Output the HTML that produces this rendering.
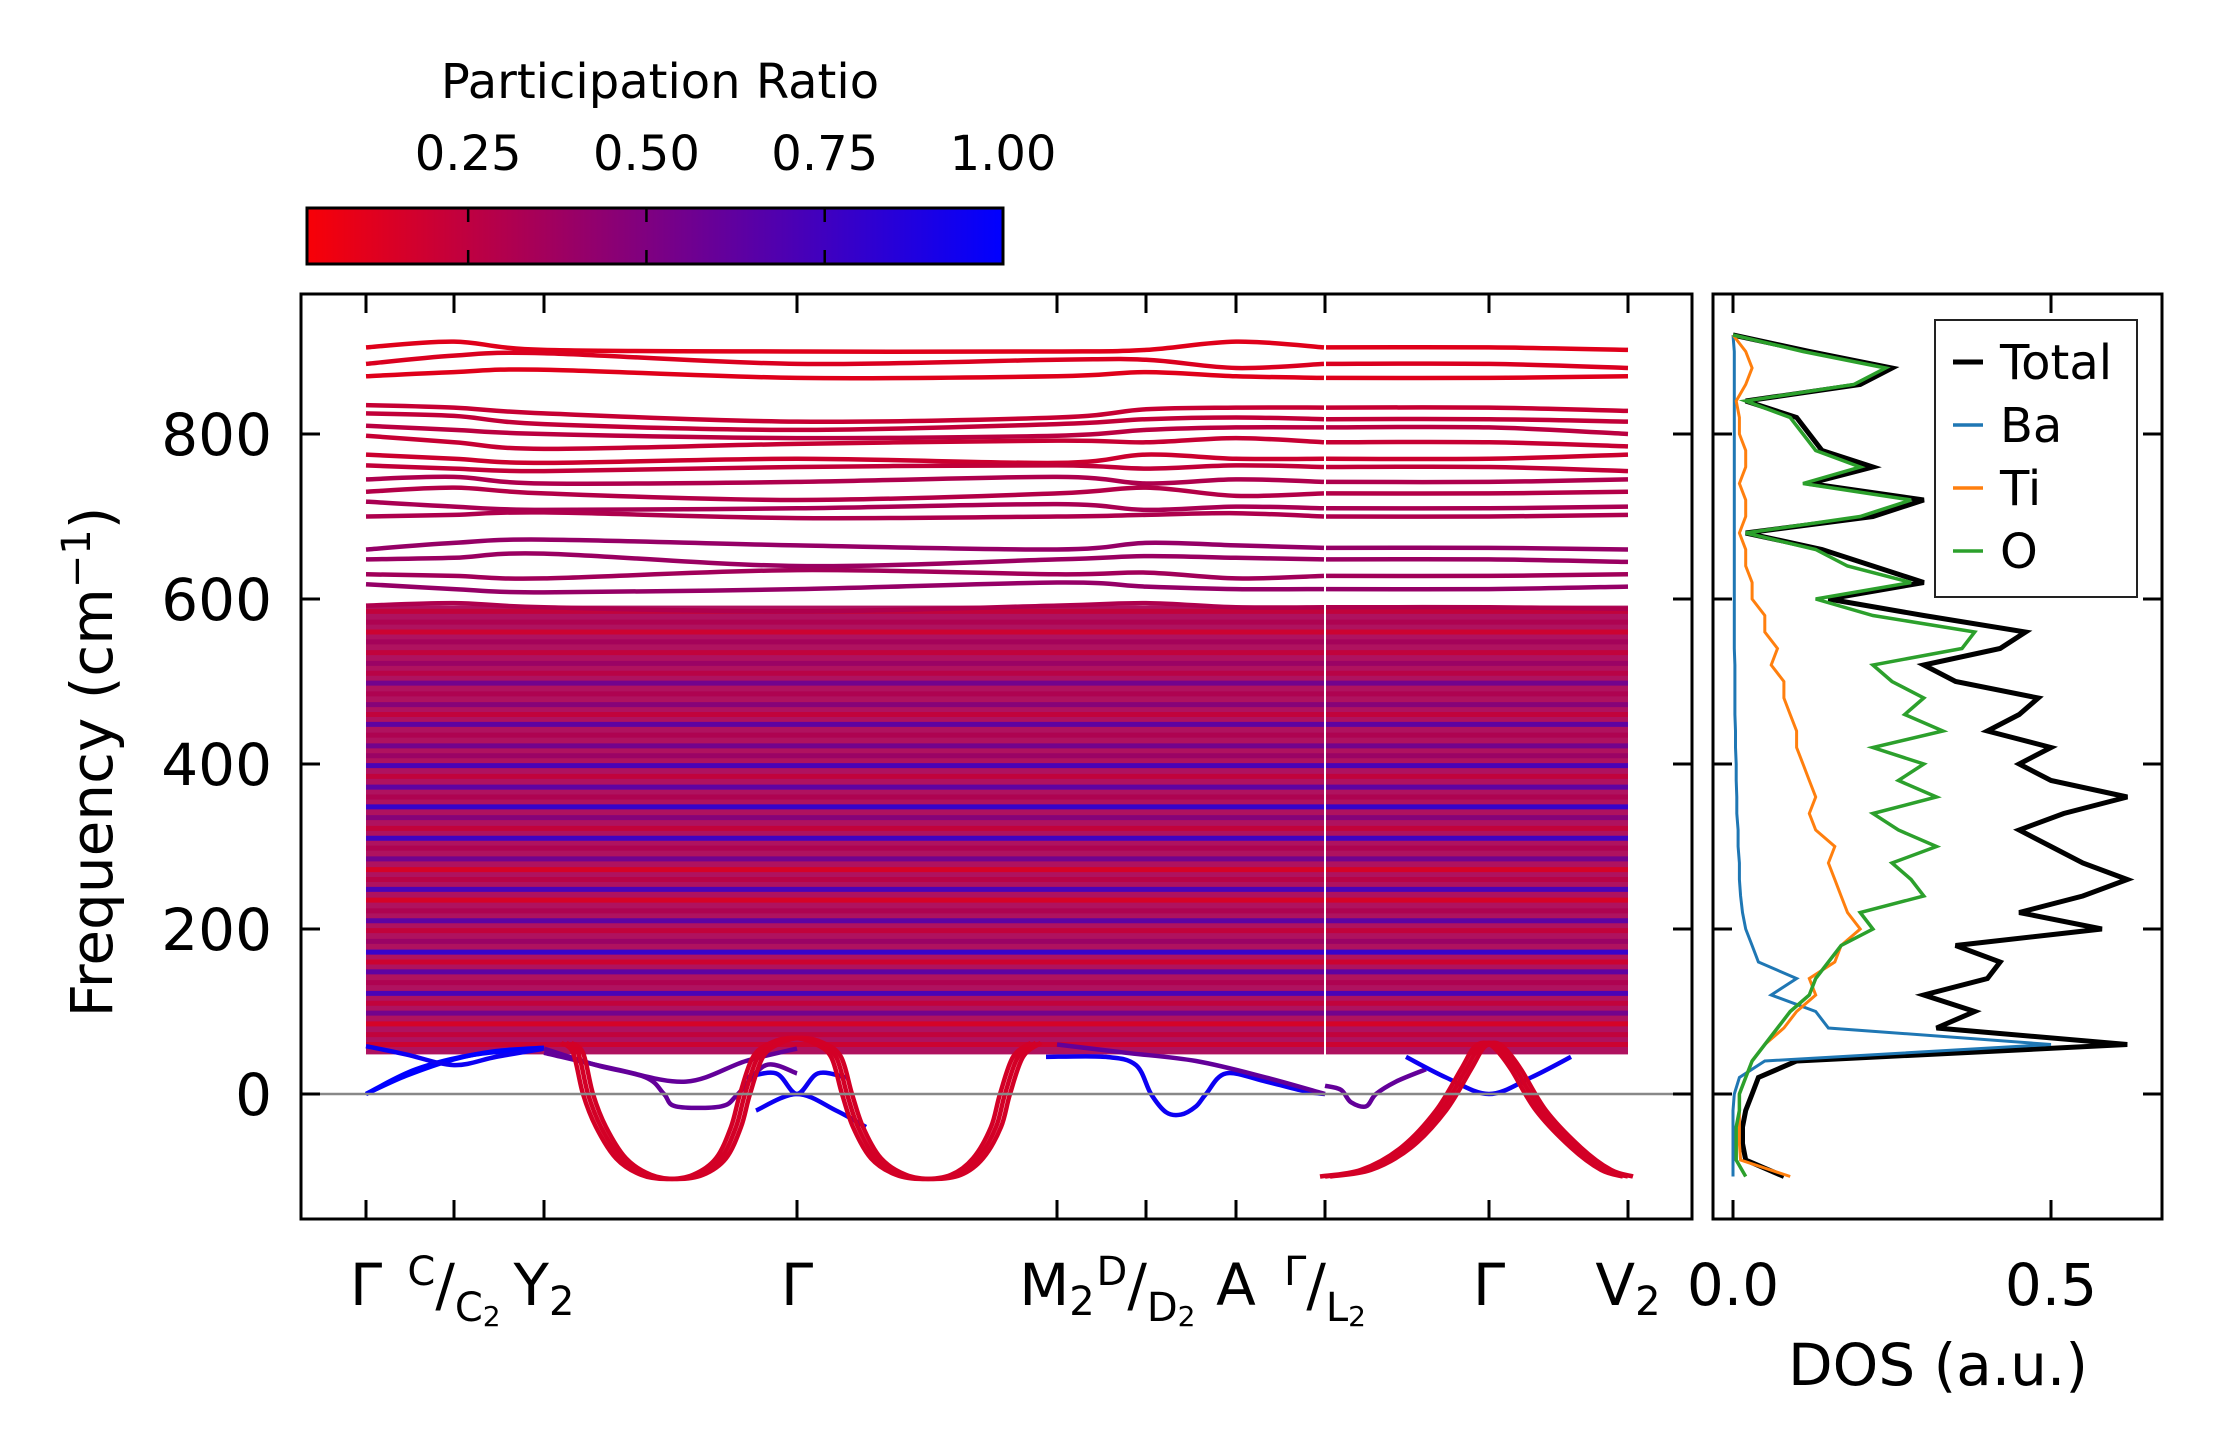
<!DOCTYPE html>
<html><head><meta charset="utf-8"><style>
html,body{margin:0;padding:0;background:#fff}
svg{display:block}
text{font-family:"DejaVu Sans","Liberation Sans",sans-serif;fill:#000}
</style></head><body>
<svg id="chart" width="2222" height="1455" viewBox="0 0 2222 1455" xmlns="http://www.w3.org/2000/svg">
<defs>
<linearGradient id="cbgrad" x1="0" x2="1" y1="0" y2="0">
<stop offset="0" stop-color="rgb(248,0,7)"/><stop offset="1" stop-color="rgb(0,0,255)"/>
</linearGradient>
<clipPath id="mainclip"><rect x="301" y="294" width="1391" height="925"/></clipPath>
<clipPath id="dosclip"><rect x="1713" y="294" width="449" height="925"/></clipPath>
</defs>
<g id="colorbar">
<rect x="307" y="208" width="696" height="56" fill="url(#cbgrad)" stroke="#000" stroke-width="3"/>
<text x="660" y="98" font-size="48" text-anchor="middle">Participation Ratio</text>
</g>
<g id="bands" clip-path="url(#mainclip)"></g>
<line x1="301" x2="1692" y1="1094" y2="1094" stroke="#888" stroke-width="2.5"/>
<rect x="301" y="294" width="1391" height="925" fill="none" stroke="#000" stroke-width="3"/>
<g id="mainaxes"></g>
<text transform="translate(112,762) rotate(-90)" font-size="58" text-anchor="middle">Frequency (cm<tspan dy="-22" font-size="40">−1</tspan><tspan dy="22">)</tspan></text>
<g id="dos" clip-path="url(#dosclip)"></g>
<rect x="1713" y="294" width="449" height="925" fill="none" stroke="#000" stroke-width="3"/>
<g id="dosaxes"></g>
<text x="1938" y="1385" font-size="58" text-anchor="middle">DOS (a.u.)</text>
<g id="legend">
<rect x="1935" y="320" width="202" height="277" fill="#fff" stroke="#222" stroke-width="2"/>
</g>
</svg>
<script>
// ---- data ----
const kTicks = [0, 88, 178, 431, 691, 780, 870, 959, 1123, 1262];
const cbTicks = [0.25, 0.5, 0.75, 1.0];
const yTicks = [0, 200, 400, 600, 800];
const dosTicks = [0.0, 0.5];
const topBands = [
 [905,912,902,900,900,902,912,905,905,902],
 [885,895,898,885,890,890,880,885,885,880],
 [870,875,878,868,870,875,870,868,868,870],
 [835,832,825,815,820,830,832,832,832,828],
 [825,822,812,805,812,818,820,818,818,815],
 [810,805,800,795,798,805,808,808,808,800],
 [798,790,782,788,792,790,795,790,790,785],
 [775,770,765,770,765,775,770,770,770,775],
 [762,758,755,760,762,758,762,760,760,755],
 [745,748,740,742,748,740,745,742,742,745],
 [730,735,728,720,728,735,725,728,728,730],
 [718,712,708,710,715,708,712,710,710,712],
 [700,702,705,698,700,702,704,700,700,702],
 [660,668,672,665,660,668,665,662,662,660],
 [648,650,655,640,648,652,650,648,648,645],
 [630,628,625,635,630,632,625,628,628,630],
 [618,612,608,612,620,615,612,612,612,615],
 [592,595,590,585,592,595,590,590,590,588]
];
const topPR = [0.1,0.12,0.1,0.2,0.22,0.25,0.2,0.18,0.22,0.3,0.28,0.32,0.3,0.4,0.38,0.35,0.4,0.3];
const denseRange = [48, 592];
const denseFreqs = [60,72,85,98,110,122,135,148,160,172,185,198,210,222,235,248,260,272,285,298,310,322,335,348,360,372,385,398,410,422,435,448,460,472,485,498,510,522,535,548,560,572,585];
const densePR = [0.15,0.2,0.1,0.6,0.2,0.8,0.3,0.7,0.15,0.9,0.4,0.2,0.7,0.3,0.1,0.8,0.25,0.1,0.6,0.3,0.85,0.2,0.5,0.9,0.3,0.7,0.2,0.8,0.4,0.6,0.3,0.7,0.2,0.5,0.3,0.6,0.25,0.4,0.2,0.35,0.15,0.3,0.2];
const softA = [[200,62],[212,50],[222,0],[235,-40],[255,-78],[280,-98],[306,-103],[332,-98],[355,-78],[370,-40],[379,0],[392,45],[410,62],[431,68],[452,62],[470,45],[481,0],[492,-40],[510,-78],[535,-98],[562,-103],[590,-98],[612,-78],[630,-40],[639,0],[652,45],[670,62]];
const softB = [[959,-100],[1000,-92],[1040,-65],[1075,-20],[1100,30],[1112,55],[1123,62],[1134,55],[1150,30],[1175,-20],[1210,-65],[1240,-92],[1262,-100]];
const softOffsets = [0, 5, -5];
const lowPR = [1.0, 1.0, 0.95, 0.6, 0.6, 0.95, 0.95, 0.95, 0.6, 0.6, 0.95];
const lowBands = [
 [[0,0],[40,22],[88,42],[130,52],[178,56]],
 [[0,0],[50,30],[110,48],[178,55]],
 [[0,58],[40,48],[88,35],[130,45],[178,55]],
 [[178,55],[230,35],[280,20],[298,0],[310,-15],[355,-15],[372,0],[400,35],[431,25]],
 [[178,50],[250,30],[320,15],[380,40],[431,55]],
 [[380,20],[410,25],[431,0],[452,25],[480,20]],
 [[390,-20],[431,0],[470,-20],[500,-40]],
 [[680,45],[740,45],[770,35],[785,0],[800,-22],[815,-25],[830,-15],[840,0],[860,25],[900,15],[940,3],[959,0]],
 [[691,60],[760,50],[830,40],[900,20],[959,0]],
 [[959,10],[975,5],[985,-10],[1000,-15],[1010,0],[1030,15],[1060,30]],
 [[1040,45],[1080,20],[1123,0],[1165,20],[1205,45]]
];
const dosFreq = [-100,-80,-60,-40,-20,0,20,40,60,80,100,120,140,160,180,200,220,240,260,280,300,320,340,360,380,400,420,440,460,480,500,520,540,560,580,600,620,640,660,680,700,720,740,760,780,800,820,840,860,880,900,920];
const dosTotal = [0.08,0.02,0.015,0.015,0.02,0.03,0.04,0.1,0.62,0.32,0.38,0.3,0.4,0.42,0.35,0.58,0.45,0.55,0.62,0.55,0.5,0.45,0.52,0.62,0.5,0.45,0.5,0.4,0.45,0.48,0.35,0.3,0.42,0.46,0.3,0.15,0.3,0.22,0.14,0.02,0.22,0.3,0.12,0.22,0.14,0.12,0.1,0.02,0.2,0.25,0.12,0.0];
const dosBa = [0,0,0,0,0,0.002,0.01,0.05,0.5,0.15,0.13,0.06,0.1,0.04,0.03,0.02,0.015,0.012,0.01,0.01,0.008,0.008,0.006,0.006,0.005,0.005,0.004,0.004,0.003,0.003,0.003,0.003,0.002,0.002,0.002,0.002,0.002,0.002,0.002,0.002,0.002,0.002,0.002,0.002,0.002,0.002,0.002,0.002,0.002,0.002,0.002,0.0];
const dosTi = [0.09,0.012,0.01,0.01,0.01,0.01,0.02,0.03,0.05,0.08,0.1,0.13,0.12,0.16,0.17,0.2,0.18,0.17,0.16,0.15,0.16,0.13,0.12,0.13,0.12,0.11,0.1,0.1,0.09,0.08,0.08,0.06,0.07,0.05,0.05,0.03,0.03,0.02,0.02,0.01,0.02,0.02,0.01,0.02,0.02,0.01,0.01,0.005,0.02,0.03,0.02,0.0];
const dosO = [0.02,0.005,0.005,0.005,0.01,0.01,0.02,0.03,0.05,0.07,0.09,0.12,0.13,0.15,0.17,0.22,0.2,0.3,0.28,0.25,0.32,0.26,0.22,0.32,0.26,0.3,0.22,0.33,0.27,0.3,0.25,0.22,0.36,0.38,0.22,0.13,0.28,0.18,0.13,0.02,0.2,0.28,0.11,0.2,0.13,0.11,0.09,0.02,0.19,0.24,0.11,0.0];
const legendLabels = ["Total","Ba","Ti","O"];
const legendColors = ["#000000","#1f77b4","#ff7f0e","#2ca02c"];

// ---- scales ----
const NS = "http://www.w3.org/2000/svg";
const xK = k => 366 + k;
const yF = f => 1094 - f * 0.825;
const xD = d => 1733 + d * 636;
const xCB = v => 307 + (v - 0.024) / (1 - 0.024) * 696;
function prColor(t){ t=Math.max(0,Math.min(1,t)); return `rgb(${Math.round(248*(1-t))},0,${Math.round(255*t)})`; }
function mk(tag, attrs, parent){ const e=document.createElementNS(NS,tag); for(const a in attrs) e.setAttribute(a,attrs[a]); parent.appendChild(e); return e; }

const cb = document.getElementById('colorbar');
cbTicks.forEach(v=>{
  const x = xCB(v);
  if (v < 1) {
    const t1 = mk('line',{x1:x,x2:x,y1:208,y2:222,stroke:'#000','stroke-width':2.5},cb);
    
    
    const t2 = mk('line',{x1:x,x2:x,y1:250,y2:264,stroke:'#000','stroke-width':2.5},cb);
    
    
  }
  const tx = mk('text',{x:x,y:170,'font-size':48,'text-anchor':'middle'},cb);
  tx.textContent = v.toFixed(2);
  
  
});

const bg = document.getElementById('bands');
function segRect(k0,k1){
  const r = mk('rect',{x:xK(k0),y:yF(denseRange[1]),width:xK(k1)-xK(k0),height:yF(denseRange[0])-yF(denseRange[1]),fill:'rgb(175,18,95)'},bg);
  
  
}
segRect(kTicks[0], kTicks[7]-1);
segRect(kTicks[7]+1, kTicks[9]);
denseFreqs.forEach((f,i)=>{
  [[kTicks[0],kTicks[7]-1],[kTicks[7]+1,kTicks[9]]].forEach(s=>{
    const l = mk('line',{x1:xK(s[0]),x2:xK(s[1]),y1:yF(f),y2:yF(f),stroke:prColor(densePR[i]),'stroke-width':5,'stroke-opacity':0.8},bg);
    
    
  });
});
function pathFrom(pts){
  const P = pts.map(p=>[xK(p[0]), yF(p[1])]);
  let d = 'M'+P[0][0].toFixed(1)+','+P[0][1].toFixed(1);
  for (let i=0;i<P.length-1;i++){
    const p0=P[Math.max(0,i-1)], p1=P[i], p2=P[i+1], p3=P[Math.min(P.length-1,i+2)];
    const c1=[p1[0]+(p2[0]-p0[0])/6, p1[1]+(p2[1]-p0[1])/6];
    const c2=[p2[0]-(p3[0]-p1[0])/6, p2[1]-(p3[1]-p1[1])/6];
    d += ' C'+c1[0].toFixed(1)+','+c1[1].toFixed(1)+' '+c2[0].toFixed(1)+','+c2[1].toFixed(1)+' '+p2[0].toFixed(1)+','+p2[1].toFixed(1);
  }
  return d;
}
topBands.forEach((b,i)=>{
  const p1 = [], p2 = [];
  for (let j=0;j<=7;j++) p1.push([kTicks[j]-(j==7?1:0), b[j]]);
  for (let j=7;j<=9;j++) p2.push([kTicks[j]+(j==7?1:0), b[j]]);
  [p1,p2].forEach(p=>{
    const e = mk('path',{d:pathFrom(p),fill:'none',stroke:prColor(topPR[i]),'stroke-width':4.5},bg);
    
    
  });
});
lowBands.forEach((b,i)=>{
  const e = mk('path',{d:pathFrom(b),fill:'none',stroke:prColor(lowPR[i]),'stroke-width':4.5},bg);
  
  
});
[softA, softB].forEach(s=>{
  softOffsets.forEach(o=>{
    const e = mk('path',{d:pathFrom(s.map(p=>[p[0]+o,p[1]])),fill:'none',stroke:prColor(0.15),'stroke-width':4.5},bg);
    
    
  });
});

const ma = document.getElementById('mainaxes');
kTicks.forEach(k=>{
  const x = xK(k);
  const a = mk('line',{x1:x,x2:x,y1:1219,y2:1200,stroke:'#000','stroke-width':3},ma);
  
  
  const b = mk('line',{x1:x,x2:x,y1:294,y2:313,stroke:'#000','stroke-width':3},ma);
  
  
});
yTicks.forEach(f=>{
  const y = yF(f);
  const a = mk('line',{x1:301,x2:320,y1:y,y2:y,stroke:'#000','stroke-width':3},ma);
  
  
  const b = mk('line',{x1:1673,x2:1692,y1:y,y2:y,stroke:'#000','stroke-width':3},ma);
  
  
  const t = mk('text',{x:272,y:y+21,'font-size':58,'text-anchor':'end'},ma);
  t.textContent = String(f);
  
  
});
const kLabels = [
 'Γ',
 '<tspan dy="-20" font-size="40">C</tspan><tspan dy="20">/</tspan><tspan dy="16" font-size="40">C</tspan><tspan font-size="28" dy="5">2</tspan>',
 'Y<tspan font-size="40" dy="10">2</tspan>',
 'Γ',
 'M<tspan font-size="40" dy="10">2</tspan>',
 '<tspan dy="-20" font-size="40">D</tspan><tspan dy="20">/</tspan><tspan dy="16" font-size="40">D</tspan><tspan font-size="28" dy="5">2</tspan>',
 'A',
 '<tspan dy="-20" font-size="40">Γ</tspan><tspan dy="20">/</tspan><tspan dy="16" font-size="40">L</tspan><tspan font-size="28" dy="5">2</tspan>',
 'Γ',
 'V<tspan font-size="40" dy="10">2</tspan>'
];
const kAnchorShift = [0,0,0,0,0,0,0,0,0,0];
kTicks.forEach((k,i)=>{
  const t = mk('text',{x:xK(k)+kAnchorShift[i],y:1305,'font-size':58,'text-anchor':'middle'},ma);
  t.innerHTML = kLabels[i];
  
  
});

const dg = document.getElementById('dos');
function dosPath(vals){ return vals.map((v,i)=>(i?'L':'M')+xD(v).toFixed(1)+','+yF(dosFreq[i]).toFixed(1)).join(' '); }
const t1 = mk('path',{d:dosPath(dosTotal),fill:'none',stroke:'#000','stroke-width':5},dg);


const t2 = mk('path',{d:dosPath(dosBa),fill:'none',stroke:'#1f77b4','stroke-width':3},dg);


const t3 = mk('path',{d:dosPath(dosTi),fill:'none',stroke:'#ff7f0e','stroke-width':3},dg);


const t4 = mk('path',{d:dosPath(dosO),fill:'none',stroke:'#2ca02c','stroke-width':3.5},dg);



const da = document.getElementById('dosaxes');
yTicks.forEach(f=>{
  const y=yF(f);
  const a = mk('line',{x1:1713,x2:1732,y1:y,y2:y,stroke:'#000','stroke-width':3},da);
  
  
  const b = mk('line',{x1:2143,x2:2162,y1:y,y2:y,stroke:'#000','stroke-width':3},da);
  
  
});
dosTicks.forEach(d=>{
  const x=xD(d);
  const a = mk('line',{x1:x,x2:x,y1:1219,y2:1200,stroke:'#000','stroke-width':3},da);
  
  
  const b = mk('line',{x1:x,x2:x,y1:294,y2:313,stroke:'#000','stroke-width':3},da);
  
  
  const t = mk('text',{x:x,y:1305,'font-size':58,'text-anchor':'middle'},da);
  t.textContent = d.toFixed(1);
  
  
});

const lg = document.getElementById('legend');
legendLabels.forEach((lab,i)=>{
  const y = 362 + i*63;
  const l = mk('line',{x1:1953,x2:1983,y1:y,y2:y,stroke:legendColors[i],'stroke-width':i==0?5:3.5},lg);
  
  
  const t = mk('text',{x:2000,y:y+17,'font-size':48},lg);
  t.textContent = lab;
  
  
});
</script>
</body></html>
